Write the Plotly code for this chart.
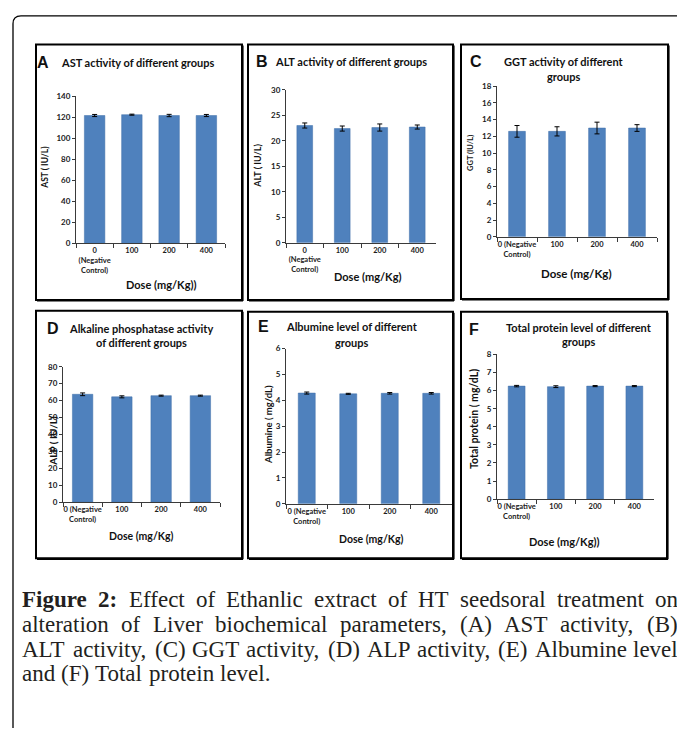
import plotly.graph_objects as go

W, H = 677, 733

# ---------------- data ----------------
doses_a = ["0<br>(Negative<br>Control)", "100", "200", "400"]
doses_b = ["0 (Negative<br>Control)", "100", "200", "400"]

ast_vals = [121.5, 122.3, 121.5, 121.5]
ast_err = [1.0, 0.5, 1.1, 1.0]
alt_vals = [23.0, 22.4, 22.6, 22.7]
alt_err = [0.5, 0.5, 0.7, 0.4]
ggt_vals = [12.6, 12.6, 13.0, 13.0]
ggt_err = [0.7, 0.55, 0.7, 0.4]
alp_vals = [63.7, 62.2, 62.9, 62.9]
alp_err = [0.8, 0.6, 0.3, 0.3]
alb_vals = [4.28, 4.25, 4.27, 4.27]
alb_err = [0.04, 0.02, 0.03, 0.03]
tp_vals = [6.25, 6.22, 6.25, 6.25]
tp_err = [0.04, 0.05, 0.03, 0.03]

# ---------------- panel layout (pixel coords) ----------------
panels = [
    dict(letter="A", cats=doses_a, vals=ast_vals, err=ast_err, ymax=140, dtick=20,
         box=(36, 40, 242, 299), plot=(76, 225, 92.3, 241.7), bw=0.55,
         letter_xy=(43, 58), title=["AST activity of different groups"], title_x=59, title_ys=[58],
         title_anchor="left", ytitle="AST ( IU/L)", ytitle_xy=(45, 165), ytitle_size=8.5,
         xtitle="Dose (mg/Kg))", xtitle_xy=(161.7, 283.3), xtitle_size=11),
    dict(letter="B", cats=doses_a, vals=alt_vals, err=alt_err, ymax=30, dtick=5,
         box=(248, 40, 453, 299), plot=(286, 436, 86, 241), bw=0.42,
         letter_xy=(262, 57), title=["ALT activity of different groups"], title_x=273, title_ys=[57],
         title_anchor="left", ytitle="ALT ( IU/L)", ytitle_xy=(258, 163), ytitle_size=9,
         xtitle="Dose (mg/Kg)", xtitle_xy=(367.7, 275.7), xtitle_size=11),
    dict(letter="C", cats=doses_b, vals=ggt_vals, err=ggt_err, ymax=18, dtick=2,
         box=(461, 40, 668, 298), plot=(497, 657, 82.3, 235), bw=0.42,
         letter_xy=(476, 57), title=["GGT activity of different", "groups"], title_x=564, title_ys=[57, 72],
         title_anchor="center", ytitle="GGT (IU/L)", ytitle_xy=(471, 150), ytitle_size=7.5,
         xtitle="Dose (mg/Kg)", xtitle_xy=(576, 272.3), xtitle_size=11.5),
    dict(letter="D", cats=doses_b, vals=alp_vals, err=alp_err, ymax=80, dtick=10,
         box=(36, 310, 242, 561), plot=(63, 220, 366.7, 504), bw=0.52,
         letter_xy=(53, 328), title=["Alkaline phosphatase activity", "of different groups"], title_x=141,
         title_ys=[328, 342], title_anchor="center", ytitle="ALP ( IU/L)", ytitle_xy=(52.7, 442),
         ytitle_size=10, xtitle="Dose (mg/Kg)", xtitle_xy=(141.7, 538), xtitle_size=10.5),
    dict(letter="E", cats=doses_b, vals=alb_vals, err=alb_err, ymax=6, dtick=1,
         box=(248, 311, 453, 561), plot=(286, 452, 348.3, 505.7), bw=0.41,
         letter_xy=(263, 326), title=["Albumine level of different", "groups"], title_x=351.7,
         title_ys=[326, 342], title_anchor="center", ytitle="Albumine ( mg/dL)", ytitle_xy=(267.7, 425),
         ytitle_size=9.5, xtitle="Dose (mg/Kg)", xtitle_xy=(371.7, 541.7), xtitle_size=10.5),
    dict(letter="F", cats=doses_b, vals=tp_vals, err=tp_err, ymax=8, dtick=1,
         box=(461, 311, 667, 561), plot=(497, 654, 354.3, 501), bw=0.43,
         letter_xy=(474, 329), title=["Total protein level of different", "groups"], title_x=578.7,
         title_ys=[327, 341], title_anchor="center", ytitle="Total protein ( mg/dL)", ytitle_xy=(474.7, 420),
         ytitle_size=10.5, xtitle="Dose (mg/Kg))", xtitle_xy=(564.7, 544.3), xtitle_size=11),
]

BAR = "#4f81bd"
AX = "#3a3a3a"
SANS = "Lato"

fig = go.Figure()
layout = dict(width=W, height=H, autosize=False, margin=dict(l=0, r=0, t=0, b=0),
              paper_bgcolor="white", plot_bgcolor="rgba(0,0,0,0)", showlegend=False,
              bargap=0.5)

annotations = []
shapes = []

for i, p in enumerate(panels, start=1):
    xa = "x" if i == 1 else f"x{i}"
    ya = "y" if i == 1 else f"y{i}"
    fig.add_trace(go.Bar(
        x=p["cats"], y=p["vals"], xaxis=xa, yaxis=ya, width=p["bw"],
        marker=dict(color=BAR, line=dict(color="#3f6fa8", width=0.5)),
        error_y=dict(type="data", array=p["err"], visible=True, color="black", thickness=1, width=2.5),
    ))
    x0, x1, ytop, ybot = p["plot"]
    key = "" if i == 1 else str(i)
    layout["xaxis" + key] = dict(
        domain=[x0 / W, x1 / W], anchor=ya, type="category", showline=True, linecolor=AX, linewidth=1,
        ticks="outside", tickson="boundaries", ticklen=4, tickcolor=AX, tickangle=0,
        tickfont=dict(family=SANS, size=7.5, color="#1a1a1a", weight="bold"), showgrid=False,
        fixedrange=True)
    layout["yaxis" + key] = dict(
        domain=[1 - ybot / H, 1 - ytop / H], anchor=xa, range=[0, p["ymax"]], dtick=p["dtick"],
        tick0=0, showline=True, linecolor=AX, linewidth=1, ticks="outside", ticklen=3, tickcolor=AX,
        tickfont=dict(family=SANS, size=8, color="#1a1a1a", weight="bold"), showgrid=False,
        zeroline=False, fixedrange=True)

    bx0, by0, bx1, by1 = p["box"]
    shapes.append(dict(type="rect", xref="x7", yref="y7", x0=bx0, y0=by0, x1=bx1, y1=by1,
                       line=dict(color="black", width=2), fillcolor="rgba(0,0,0,0)", layer="above"))
    shapes.append(dict(type="line", xref="x7", yref="y7", x0=bx1 + 1, y0=by0 + 1, x1=bx1 + 1, y1=by1 + 1,
                       line=dict(color="black", width=1.2), layer="above"))
    shapes.append(dict(type="line", xref="x7", yref="y7", x0=bx0 + 1, y0=by1 + 1, x1=bx1 + 1, y1=by1 + 1,
                       line=dict(color="black", width=1.2), layer="above"))

    lx, ly = p["letter_xy"]
    annotations.append(dict(xref="x7", yref="y7", x=lx, y=ly, text=p["letter"], showarrow=False,
                            xanchor="center", yanchor="middle",
                            font=dict(family="Liberation Sans", size=16, color="#111", weight="bold")))
    for t, ty in zip(p["title"], p["title_ys"]):
        annotations.append(dict(xref="x7", yref="y7", x=p["title_x"], y=ty, text=t, showarrow=False,
                                xanchor=p["title_anchor"], yanchor="middle",
                                font=dict(family=SANS, size=11, color="#111", weight="bold")))
    tx, tyy = p["ytitle_xy"]
    annotations.append(dict(xref="x7", yref="y7", x=tx, y=tyy, text=p["ytitle"], showarrow=False,
                            textangle=-90, xanchor="center", yanchor="middle",
                            font=dict(family=SANS, size=p["ytitle_size"], color="#111", weight="bold")))
    qx, qy = p["xtitle_xy"]
    annotations.append(dict(xref="x7", yref="y7", x=qx, y=qy, text=p["xtitle"], showarrow=False,
                            xanchor="center", yanchor="middle",
                            font=dict(family=SANS, size=p["xtitle_size"], color="#111", weight="bold")))

# overlay pixel axis
fig.add_trace(go.Scatter(x=[], y=[], xaxis="x7", yaxis="y7"))
layout["xaxis7"] = dict(domain=[0, 1], range=[0, W], visible=False, anchor="y7", fixedrange=True)
layout["yaxis7"] = dict(domain=[0, 1], range=[H, 0], visible=False, anchor="x7", fixedrange=True)

# outer frame with rounded top-left corner
shapes.append(dict(type="path", xref="x7", yref="y7",
                   path="M 13,740 L 13,19 Q 13,11 21,11 L 690,11",
                   line=dict(color="black", width=1.3), layer="above"))

# ---------------- caption (justified, Times-metric font) ----------------
TIMES = {" ": 250, "(": 333, ")": 333, ",": 250, ".": 250, ":": 278, "-": 333,
         "A": 722, "B": 667, "C": 667, "D": 722, "E": 611, "F": 556, "G": 722, "H": 722, "I": 333,
         "L": 611, "P": 556, "S": 556, "T": 611,
         "a": 444, "b": 500, "c": 444, "d": 500, "e": 444, "f": 333, "g": 500, "h": 500, "i": 278,
         "j": 278, "k": 500, "l": 278, "m": 778, "n": 500, "o": 500, "p": 500, "q": 500, "r": 333,
         "s": 389, "t": 278, "u": 500, "v": 500, "w": 722, "x": 500, "y": 500, "z": 444}
TIMES_B = {"F": 611, "i": 278, "g": 500, "u": 556, "r": 444, "e": 444, "2": 500, ":": 333}
for d in "0123456789":
    TIMES[d] = 500

CAP_SIZE = 23
CAP_FONT = "Liberation Serif"


def text_w(s, bold):
    tab = TIMES_B if bold else TIMES
    return sum(tab.get(c, TIMES.get(c, 500)) for c in s) * CAP_SIZE / 1000.0


caption_lines = [
    ("Figure 2: Effect of Ethanlic extract of HT seedsoral treatment on", True),
    ("alteration of Liver biochemical parameters, (A) AST activity, (B)", True),
    ("ALT activity, (C) GGT activity, (D) ALP activity, (E) Albumine level", True),
    ("and (F) Total protein level.", False),
]
cap_y = [603, 628, 653, 678]
CAP_X0, CAP_X1 = 20, 676

for (line, justify), cy in zip(caption_lines, cap_y):
    words = line.split(" ")
    bolds = [w in ("Figure", "2:") and cy == cap_y[0] for w in words]
    widths = [text_w(w, b) for w, b in zip(words, bolds)]
    if justify:
        gap = (CAP_X1 - CAP_X0 - sum(widths)) / (len(words) - 1)
    else:
        gap = 250 * CAP_SIZE / 1000.0
    x = CAP_X0
    for w, b, wd in zip(words, bolds, widths):
        annotations.append(dict(xref="x7", yref="y7", x=x, y=cy, text=(f"<b>{w}</b>" if b else w),
                                showarrow=False, xanchor="left", yanchor="middle",
                                font=dict(family=CAP_FONT, size=CAP_SIZE, color="#231f20")))
        x += wd + gap

layout["annotations"] = annotations
layout["shapes"] = shapes
fig.update_layout(**layout)

fig.write_html("out.html", config={"displayModeBar": False, "staticPlot": True},
               post_script="document.body.style.margin='0';document.body.style.overflow='hidden';")
